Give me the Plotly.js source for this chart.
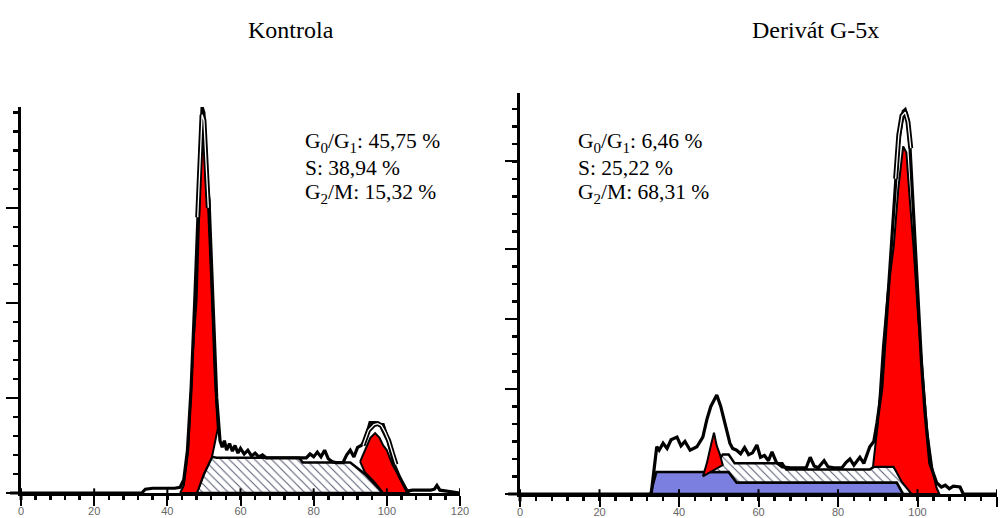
<!DOCTYPE html>
<html><head><meta charset="utf-8">
<script src="https://cdn.plot.ly/plotly-3.0.1.min.js"></script>
<style>html,body{margin:0;padding:0;background:#fff}#c{width:1002px;height:518px}</style>
</head><body><div id="c"></div>
<script>
// ---------- DATA ----------
const panelTitles = ["Kontrola", "Derivát G-5x"];
const statsLeft = ["G<sub>0</sub>/G<sub>1</sub>: 45,75 %", "S: 38,94 %", "G<sub>2</sub>/M: 15,32 %"];
const statsRight = ["G<sub>0</sub>/G<sub>1</sub>: 6,46 %", "S: 25,22 %", "G<sub>2</sub>/M: 68,31 %"];
const xTickVals = [0, 20, 40, 60, 80, 100, 120];
const xTickText = ["0", "20", "40", "60", "80", "100", "120"];
const yMajorLeft = [0, 100, 200, 300];
const yMajorRight = [0, 120, 200, 280, 380];

// Left panel (Kontrola) – measured histogram
const histLX = [0,33,34,36,38,40,42,43.5,44.5,45.5,46.5,47.5,48.3,49,49.5,50,50.6,51.4,52.5,53.5,54.4,55,55.6,56.2,57,57.8,58.5,59.3,60,61,62,63,64,65,66,67,70,75,78,79,80,81,82,83,84,85,86,88,89,90,91,92,93,94,95.4,97,98,99,100,101,102,103.6,105.5,107,110,112,113,113.7,114.5,116,120];
const histLY = [0,0,4,5,5,5,5,6,14,45,110,203,290,370,406,400,330,308,203,100,55,48,55,45,52,44,50,42,47,41,45,39,42,38,40,37,37,37,37,41,38,43,38,45,36,33,32,32,40,45,38,48,50,55,74,74,72,72,60,45,30,16,2,3,3,3,4,8,3,2,0,0];
// Left G0/G1 peak (red)
const g1LX = [43.5,44.5,45.7,47,48,48.8,49.5,50.3,51.2,52.2,53,53.8,52.2,50,48.4,48,43.5];
const g1LY = [0,8,45,150,203,300,395,380,300,203,120,68,38,20,3,0,0];
// Left S phase (hatched)
const sLX = [48,48.5,50,52.2,53.5,60,76,77,88,90,94,99,48];
const sLY = [0,5,20,38,37,37,37,32,32,32,20,0,0];
// Left G2/M peak (red)
const g2LX = [92.7,94,95.5,96.8,98,99,100,101.5,103.6,105.5,106,99,96.5,94,92.7];
const g2LY = [33,45,58,63,58,50,45,30,16,3,0,0,12,22,33];
// Left model fit line
const fitLX = [48.3,49,49.5,50,50.6,51.2, null, 93.5,95,96.5,97.5,98.5,99.5,100.5,101.5,102.5];
const fitLY = [290,365,398,392,340,300, null, 50,66,72,73,71,64,55,42,30];

// Right panel (Derivát G-5x) – measured histogram
const histRX = [0,32.5,33,34.4,35,36,37,38,39.5,40.5,41.5,42.8,43.5,44.5,46,47,48,49.5,50.5,51.5,52.8,53.5,54.5,55.5,56.5,57.5,58.5,59.6,60.5,61.5,62.5,63.4,64.5,66,68,70,72,73,74,75,76.5,77.5,79,81,82,83,84,85.5,86.5,88,89,89.8,91,92.3,93.9,95.1,96.4,96.9,97.5,98.1,99,100.2,101,101.9,103.1,104.8,106,107,108,109,110.7,111.5,120];
const histRY = [0,0,0,54,50,58,52,62,65,55,60,50,52,54,65,85,100,113,100,80,58,52,50,46,53,45,47,56,42,44,38,48,36,31,30,30,30,42,32,30,38,31,30,30,36,40,33,42,35,54,60,81,120,207,321,397,437,439,430,397,321,207,150,93,35,13,8,10,6,9,8,0,0];
// Right debris (blue)
const debRX = [32.8,34.3,52.5,54.5,94.8,96.4,32.8];
const debRY = [0,25,25,13,13,0,0];
// Right S phase (hatched)
const sRX = [47.8,49,51,52.5,54,66,67,88,89,94,98,98.5,96.4,94.8,54.5,52.5,47.8];
const sRY = [25,33,45,45,35,35,28,28,31,31,5,0,0,13,13,25,25];
// Right G0/G1 peak (red)
const g1RX = [46,47,48,48.8,49.5,50.3,51,49,47.8,46];
const g1RY = [20,35,55,70,55,45,33,28,25,20];
// Right G2/M peak (red)
const g2RX = [88.8,90,91.3,92.5,94,95.2,96.4,97.2,98,99,100.2,101.4,102.5,103.9,104.8,105.5,98.5,96,94,88.8];
const g2RY = [31,80,168,230,282,350,397,390,340,282,200,130,70,24,7,0,0,14,31,31];
// Right model fit line
const fitRX = [94.5,95.3,96.1,96.9,97.6,98.3];
const fitRY = [360,410,432,436,425,395];

// ---------- PLOT ----------
const W = 1002, H = 518;
const px = v => v / W, py = v => 1 - v / H;
const hatch = {shape: '\\', fgcolor: '#50566e', bgcolor: '#ffffff', size: 6, solidity: 0.16};
function poly(x, y, xa, ya, fill, pattern, lw) {
  const t = {type: 'scatter', mode: 'lines', x: x, y: y, xaxis: xa, yaxis: ya, fill: 'toself',
    line: {color: '#000', width: lw}, hoverinfo: 'skip', showlegend: false};
  if (pattern) { t.fillcolor = '#ffffff'; t.fillpattern = pattern; } else { t.fillcolor = fill; }
  return t;
}
function line(x, y, xa, ya, color, w) {
  return {type: 'scatter', mode: 'lines', x: x, y: y, xaxis: xa, yaxis: ya,
    line: {color: color, width: w}, hoverinfo: 'skip', showlegend: false, connectgaps: false};
}
const traces = [
  poly(sLX, sLY, 'x', 'y', null, hatch, 2.5),
  poly(g1LX, g1LY, 'x', 'y', '#ff0000', null, 2),
  poly(g2LX, g2LY, 'x', 'y', '#ff0000', null, 2),
  line(histLX, histLY, 'x', 'y', '#000', 3.2),
  line(fitLX, fitLY, 'x', 'y', '#000', 5),
  line(fitLX, fitLY, 'x', 'y', '#fff', 1.3),
  poly(debRX, debRY, 'x2', 'y2', '#7b7fe0', null, 2.5),
  poly(sRX, sRY, 'x2', 'y2', null, hatch, 2.5),
  poly(g1RX, g1RY, 'x2', 'y2', '#ff0000', null, 2),
  poly(g2RX, g2RY, 'x2', 'y2', '#ff0000', null, 2),
  line(histRX, histRY, 'x2', 'y2', '#000', 3.2),
  line(fitRX, fitRY, 'x2', 'y2', '#000', 5),
  line(fitRX, fitRY, 'x2', 'y2', '#fff', 1.3)
];
function xax(dom, anchor) {
  return {domain: dom, anchor: anchor, range: [0, 120], showgrid: false, zeroline: false,
    showline: true, linecolor: '#000', linewidth: 3, ticks: 'outside', ticklen: 10, tickwidth: 2,
    tickcolor: '#000', tickmode: 'array', tickvals: xTickVals, ticktext: xTickText,
    ticklabelstandoff: -4,
    tickfont: {family: 'Liberation Sans Narrow, Arial Narrow, Arial', size: 11, color: '#666'},
    minor: {tickmode: 'linear', tick0: 0, dtick: 4, ticks: 'outside', ticklen: 4, tickwidth: 2.5, tickcolor: '#000', showgrid: false},
    fixedrange: true};
}
function yax(dom, anchor, range, major) {
  return {domain: dom, anchor: anchor, range: range, showgrid: false, zeroline: false,
    showline: true, linecolor: '#000', linewidth: 3, ticks: 'outside', ticklen: 12, tickwidth: 2,
    tickcolor: '#000', tickmode: 'array', tickvals: major, showticklabels: false,
    minor: {tickmode: 'linear', tick0: 0, dtick: 20, ticks: 'outside', ticklen: 5, tickwidth: 2.5, tickcolor: '#000', showgrid: false},
    fixedrange: true};
}
const annotations = [];
const titleX = [291, 815];
panelTitles.forEach((t, i) => annotations.push({text: t, xref: 'paper', yref: 'paper', x: px(titleX[i]), y: py(30),
  xanchor: 'center', yanchor: 'middle', showarrow: false, font: {family: 'Liberation Serif, Times New Roman', size: 24, color: '#000'}}));
const rowY = [142, 168, 194];
statsLeft.forEach((t, i) => annotations.push({text: t, xref: 'paper', yref: 'paper', x: px(303), y: py(rowY[i]),
  xanchor: 'left', yanchor: 'middle', showarrow: false, font: {family: 'Liberation Serif, Times New Roman', size: 21.5, color: '#000'}}));
statsRight.forEach((t, i) => annotations.push({text: t, xref: 'paper', yref: 'paper', x: px(576), y: py(rowY[i]),
  xanchor: 'left', yanchor: 'middle', showarrow: false, font: {family: 'Liberation Serif, Times New Roman', size: 21.5, color: '#000'}}));

// axis-line extensions and crossing major ticks (as in the original instrument plot)
const shapes = [];
[['x', 'y'], ['x2', 'y2']].forEach(([xa, ya]) => {
  shapes.push({type: 'line', xref: xa + ' domain', yref: ya + ' domain', x0: -0.025, x1: 0, y0: 0, y1: 0, line: {color: '#000', width: 3}});
  shapes.push({type: 'line', xref: xa + ' domain', yref: ya + ' domain', x0: 0, x1: 0, y0: -0.018, y1: 0, line: {color: '#000', width: 3}});
  xTickVals.forEach(v => shapes.push({type: 'line', xref: xa, yref: ya + ' domain', x0: v, x1: v, y0: 0, y1: 0.012, line: {color: '#000', width: 2}}));
});

const layout = {
  width: W, height: H, margin: {l: 0, r: 0, t: 0, b: 0}, paper_bgcolor: '#fff', plot_bgcolor: '#fff',
  showlegend: false,
  xaxis: xax([px(21), px(460)], 'y'),
  yaxis: yax([py(493), py(107)], 'x', [0, 406], yMajorLeft),
  xaxis2: xax([px(520), px(997)], 'y2'),
  yaxis2: yax([py(494), py(93)], 'x2', [0, 458], yMajorRight),
  annotations: annotations,
  shapes: shapes
};
Plotly.newPlot('c', traces, layout, {staticPlot: true, displayModeBar: false});
</script></body></html>
